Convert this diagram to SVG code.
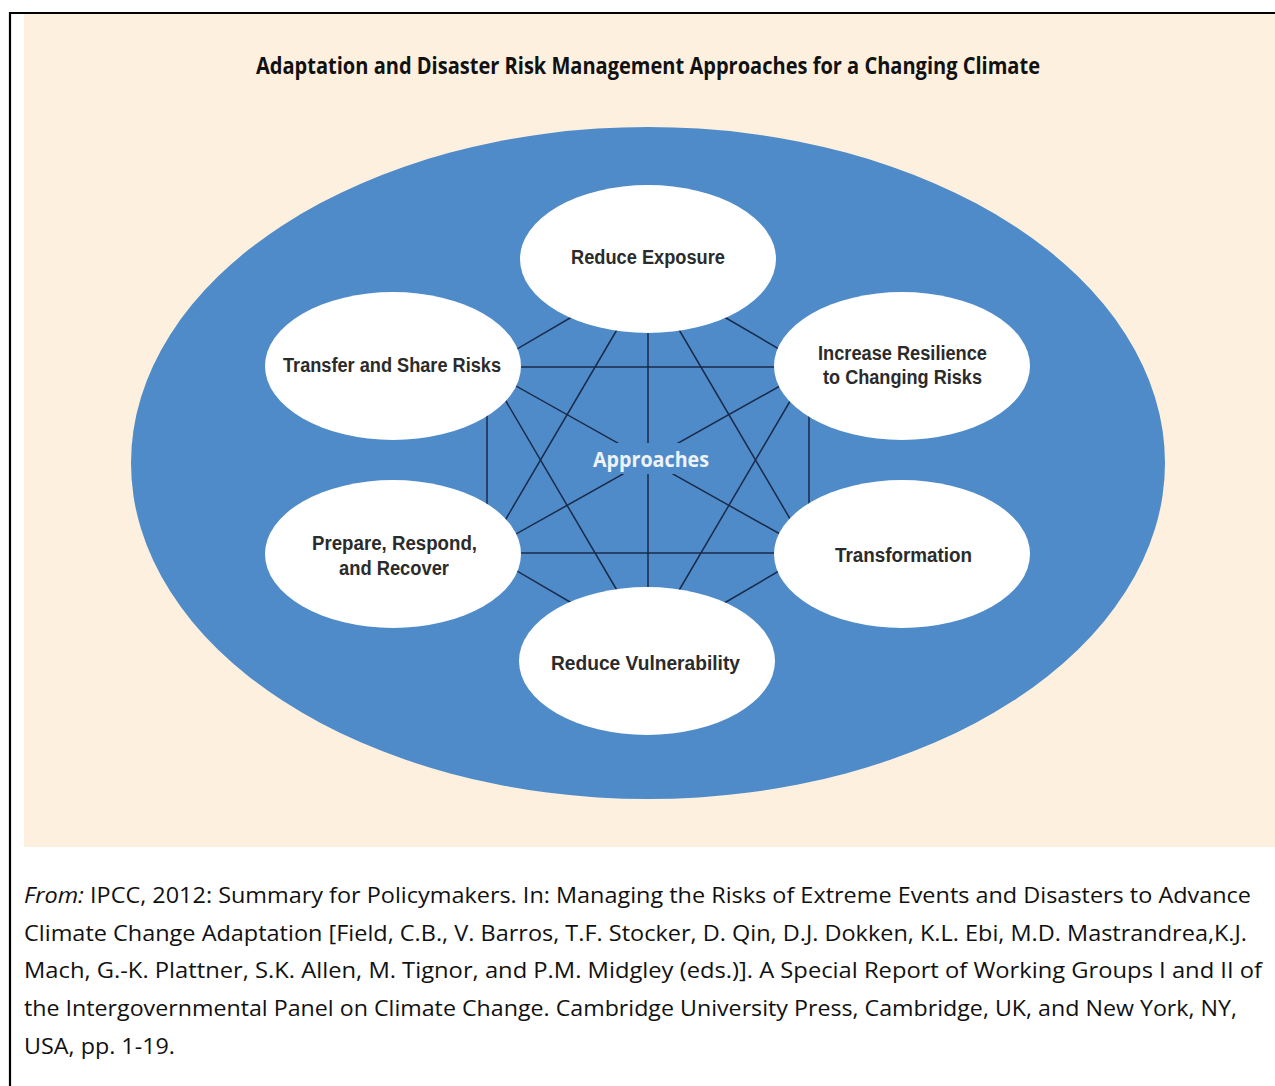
<svg xmlns="http://www.w3.org/2000/svg" width="1275" height="1086" viewBox="0 0 1275 1086">
<style>
.node ellipse{fill:#ffffff;}
.lbl{font-family:"Liberation Sans","Open Sans",sans-serif;font-weight:700;font-size:20px;fill:#2b2b2b;text-anchor:middle;}
.conn line{stroke:#1a2a4a;stroke-width:1.5;fill:none;}
.cap{font-family:"Open Sans","Liberation Sans",sans-serif;font-size:21px;fill:#111111;}
</style>
<rect x="0" y="0" width="1275" height="1086" fill="#ffffff"/>
<rect x="24" y="14" width="1251" height="833" fill="#fdf0de"/>
<g id="frame" stroke="#000" stroke-width="2.2" fill="none">
<line x1="10" y1="13" x2="1275" y2="13"/>
<line x1="10" y1="12" x2="10" y2="1086"/>
</g>
<text id="title" x="256" y="74" textLength="784" lengthAdjust="spacingAndGlyphs" style="font-family:'Open Sans','Liberation Sans',sans-serif;font-weight:700;font-size:23px;fill:#111">Adaptation and Disaster Risk Management Approaches for a Changing Climate</text>
<ellipse id="outer" cx="648" cy="463" rx="517" ry="336" fill="#4f8bc9"/>
<g id="connectors" class="conn">
<line x1="505" y1="356" x2="582" y2="311"/>
<line x1="791" y1="356" x2="714" y2="311"/>
<line x1="505" y1="564" x2="582" y2="609"/>
<line x1="791" y1="564" x2="714" y2="609"/>
<line x1="500" y1="367" x2="796" y2="367"/>
<line x1="500" y1="553" x2="796" y2="553"/>
<line x1="487" y1="400" x2="487" y2="520"/>
<line x1="809" y1="400" x2="809" y2="520"/>
<line x1="500" y1="377" x2="796" y2="543"/>
<line x1="796" y1="377" x2="500" y2="543"/>
<line x1="625" y1="316" x2="500" y2="529"/>
<line x1="671" y1="316" x2="796" y2="529"/>
<line x1="625" y1="604" x2="500" y2="391"/>
<line x1="671" y1="604" x2="796" y2="391"/>
<line x1="648" y1="320" x2="648" y2="600"/>
</g>
<g id="approaches">
<rect x="590" y="443" width="118" height="31" fill="#4f8bc9"/>
<text x="651" y="467" text-anchor="middle" textLength="116" lengthAdjust="spacingAndGlyphs" style="font-family:'Open Sans','Liberation Sans',sans-serif;font-weight:700;font-size:22px;fill:#eef3fa">Approaches</text>
</g>
<g id="node-reduce-exposure" class="node">
<ellipse cx="648" cy="259" rx="128" ry="74"/>
<text class="lbl" x="648" y="264" textLength="154" lengthAdjust="spacingAndGlyphs">Reduce Exposure</text>
</g>
<g id="node-transfer" class="node">
<ellipse cx="393" cy="366" rx="128" ry="74"/>
<text class="lbl" x="392" y="372" textLength="218" lengthAdjust="spacingAndGlyphs">Transfer and Share Risks</text>
</g>
<g id="node-resilience" class="node">
<ellipse cx="902" cy="366" rx="128" ry="74"/>
<text class="lbl" x="902.5" y="360" textLength="169" lengthAdjust="spacingAndGlyphs">Increase Resilience</text>
<text class="lbl" x="902.5" y="384" textLength="159" lengthAdjust="spacingAndGlyphs">to Changing Risks</text>
</g>
<g id="node-prepare" class="node">
<ellipse cx="393" cy="554" rx="128" ry="74"/>
<text class="lbl" x="394.5" y="550" textLength="165" lengthAdjust="spacingAndGlyphs">Prepare, Respond,</text>
<text class="lbl" x="394" y="575" textLength="110" lengthAdjust="spacingAndGlyphs">and Recover</text>
</g>
<g id="node-transformation" class="node">
<ellipse cx="902" cy="554" rx="128" ry="74"/>
<text class="lbl" x="903.5" y="562" textLength="137" lengthAdjust="spacingAndGlyphs">Transformation</text>
</g>
<g id="node-reduce-vulnerability" class="node">
<ellipse cx="647" cy="661" rx="128" ry="74"/>
<text class="lbl" x="645.5" y="670" textLength="189" lengthAdjust="spacingAndGlyphs">Reduce Vulnerability</text>
</g>
<g id="caption">
<text class="cap" x="24" y="903" textLength="1227" lengthAdjust="spacingAndGlyphs"><tspan font-style="italic">From:</tspan> IPCC, 2012: Summary for Policymakers. In: Managing the Risks of Extreme Events and Disasters to Advance</text>
<text class="cap" x="24" y="941" textLength="1223" lengthAdjust="spacingAndGlyphs">Climate Change Adaptation [Field, C.B., V. Barros, T.F. Stocker, D. Qin, D.J. Dokken, K.L. Ebi, M.D. Mastrandrea,K.J.</text>
<text class="cap" x="24" y="978" textLength="1238" lengthAdjust="spacingAndGlyphs">Mach, G.-K. Plattner, S.K. Allen, M. Tignor, and P.M. Midgley (eds.)]. A Special Report of Working Groups I and II of</text>
<text class="cap" x="24" y="1016" textLength="1213" lengthAdjust="spacingAndGlyphs">the Intergovernmental Panel on Climate Change. Cambridge University Press, Cambridge, UK, and New York, NY,</text>
<text class="cap" x="24" y="1054" textLength="151" lengthAdjust="spacingAndGlyphs">USA, pp. 1-19.</text>
</g>
</svg>
